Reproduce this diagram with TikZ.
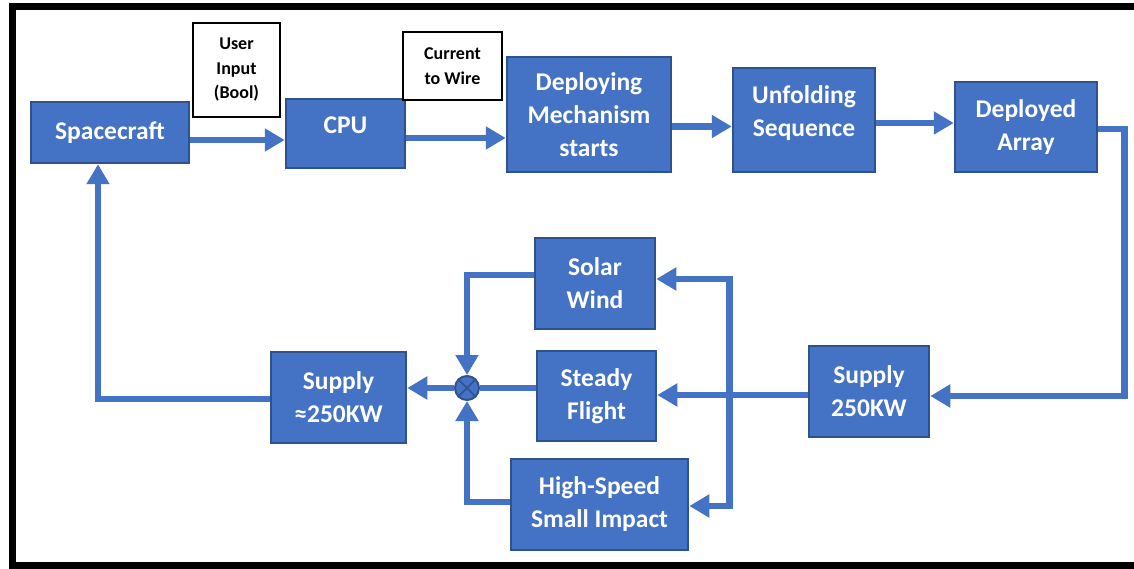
\documentclass[tikz,border=0pt]{standalone}
\usepackage{fontspec}
\setmainfont{Carlito}
\usepackage{xcolor}
\usetikzlibrary{arrows.meta, positioning, calc}
\definecolor{blockBlue}{HTML}{4472C4}
\definecolor{blockEdge}{HTML}{2F528F}
\tikzset{
    blockNode/.style={rectangle, draw=blockEdge, fill=blockBlue, line width=2.5pt, text=white,
        align=center, inner sep=0pt, font=\fontsize{25.5}{33}\selectfont\bfseries},
    noteNode/.style={rectangle, draw=black, fill=white, line width=1.8pt, text=black,
        align=center, inner sep=0pt, font=\fontsize{18}{24.5}\selectfont\bfseries},
    sumNode/.style={circle, draw=blockEdge, fill=blockBlue, line width=2pt, minimum size=24pt, inner sep=0pt},
    flow/.style={draw=blockBlue, line width=6.5pt, -{Triangle[length=20pt, width=22pt]}},
    flowLine/.style={draw=blockBlue, line width=6.5pt}
}

\begin{document}
\begin{tikzpicture}[x=1pt, y=-1pt]
    \useasboundingbox (0,0) rectangle (1134,569);
    % --- frame ---
    \draw[line width=7.5pt, black] (1134,6.5) -- (12.5,6.5) -- (12.5,565.5) -- (1134,565.5);
    % --- top row ---
    \node[blockNode, minimum width=158, minimum height=61] (sc) at (110,132.5) {Spacecraft};
    \node[noteNode, minimum width=87, minimum height=94] (inp) at (236.5,70) {User\\Input\\(Bool)};
    \node[blockNode, minimum width=119, minimum height=69] (cpu) at (345.5,133.5) {CPU\\[-17pt]};
    \node[noteNode, minimum width=99, minimum height=68] (cur) at (452.5,66) {Current\\to Wire};
    \node[blockNode, minimum width=164, minimum height=115] (dep) at (589,114.5) {Deploying\\Mechanism\\starts};
    \node[blockNode, minimum width=142, minimum height=104] (unf) at (804,120) {Unfolding\\Sequence\\[-15pt]};
    \node[blockNode, minimum width=142, minimum height=90] (arr) at (1026,127) {Deployed\\Array};
    % --- bottom row ---
    \node[blockNode, minimum width=120, minimum height=91] (sup) at (869,391.5) {Supply\\250KW};
    \node[blockNode, minimum width=120, minimum height=91] (sol) at (595,283.5) {Solar\\Wind};
    \node[blockNode, minimum width=119, minimum height=90] (std) at (596.5,396) {Steady\\Flight};
    \node[blockNode, minimum width=177, minimum height=91] (hsi) at (599.5,504.5) {High-Speed\\Small Impact};
    \node[blockNode, minimum width=135, minimum height=91] (sap) at (338.5,397.5) {Supply\\≈250KW};
    \node[sumNode] (sum) at (467,388) {};
    \draw[blockEdge, line width=1.5pt] (sum.north west) -- (sum.south east);
    \draw[blockEdge, line width=1.5pt] (sum.north east) -- (sum.south west);
    % --- forward path ---
    \draw[flow] ([yshift=-7.5pt]sc.east) -- ([yshift=-7.5pt]sc.east -| cpu.west);
    \draw[flow] ([yshift=-4.5pt]cpu.east) -- ([yshift=-4.5pt]cpu.east -| dep.west);
    \draw[flow] ([yshift=-12pt]dep.east) -- ([yshift=-12pt]dep.east -| unf.west);
    \draw[flow] ([yshift=-3pt]unf.east) -- ([yshift=-3pt]unf.east -| arr.west);
    \draw[flow] ([yshift=-2pt]arr.east) -- ++(26,0) |- ([yshift=-4.5pt]sup.east);
    % --- disturbances ---
    \draw[flow] ([yshift=-3.5pt]sup.west) -- ([yshift=-3.5pt]sup.west -| std.east);
    \coordinate (br) at ($(sup.west)!0.5!(sup.west -| std.east) + (-3,3.5)$);
    \draw[flow] (br) |- ([yshift=4.5pt]sol.east);
    \draw[flow] (br) |- ([yshift=-1.5pt]hsi.east);
    \draw[flow] ([yshift=8.5pt]sol.west) -| (sum.north);
    \draw[flowLine] (std.west |- sum.east) -- (sum.east);
    \draw[flow] ([yshift=2.5pt]hsi.west) -| (sum.south);
    \draw[flow] (sum.west) -- (sum.west -| sap.east);
    % --- feedback ---
    \draw[flow] ([yshift=-1.5pt]sap.west) -| ([xshift=-12pt]sc.south);
\end{tikzpicture}
\end{document}
